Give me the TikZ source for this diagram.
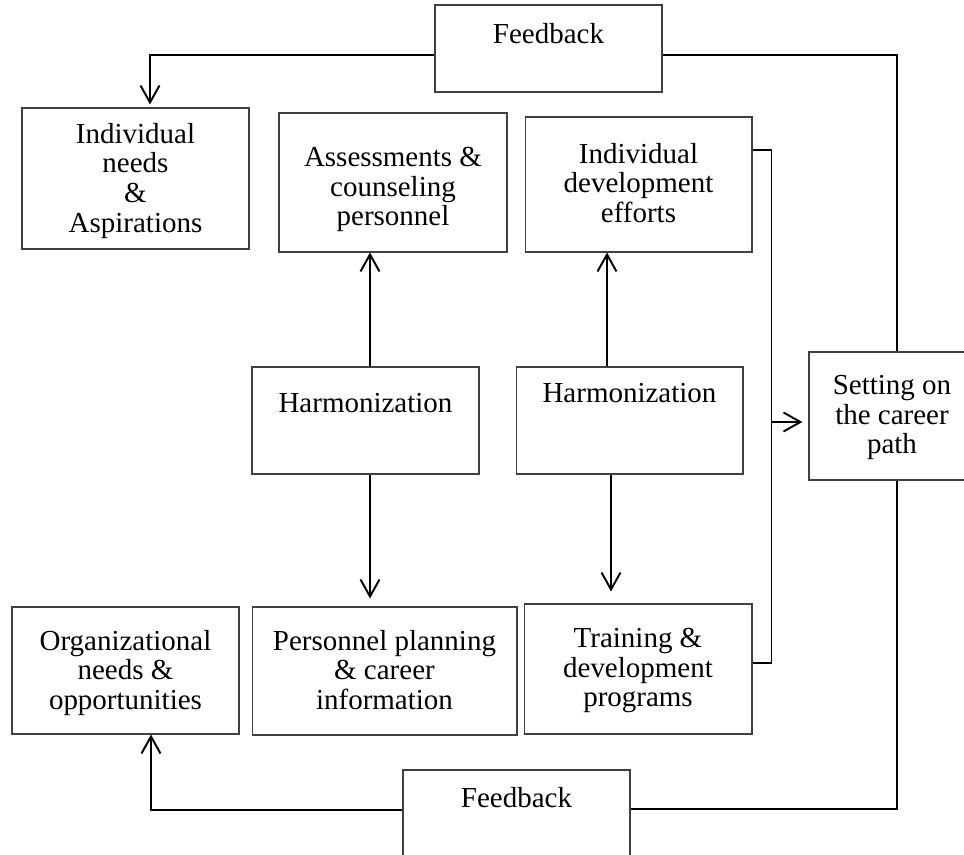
\documentclass[tikz,border=0pt]{standalone}
\usepackage{fontspec}
\setmainfont{Liberation Serif}
\usetikzlibrary{arrows.meta}

\tikzset{
  box/.style={draw=black!75,line width=0.6pt,minimum width=4.54cm},
  lbl/.style={anchor=north,inner sep=0pt,align=center,font=\fontsize{16.5}{16.8}\selectfont},
  conn/.style={line width=1.1pt,>={Straight Barb[length=0.34cm,width=0.38cm]}}
}

\begin{document}
\begin{tikzpicture}[x=0.02cm,y=-0.02cm]
  \useasboundingbox (0,0) rectangle (964,855);

  \node[box,minimum height=1.74cm] (fbtop) at (548.5,48.5) {};
  \node[box,minimum height=2.82cm] (indiv) at (135.5,178.5) {};
  \node[box,minimum width=4.56cm,minimum height=2.78cm] (assess) at (393,182.5) {};
  \node[box,minimum height=2.70cm] (idev) at (638.5,184.5) {};
  \node[box,minimum height=2.14cm] (harmA) at (365.5,420.5) {};
  \node[box,minimum height=2.14cm] (harmB) at (629.5,420.5) {};
  \node[box,minimum width=3.32cm,minimum height=2.56cm] (setting) at (892,416) {};
  \node[box,minimum height=2.54cm] (org) at (125.5,670.5) {};
  \node[box,minimum width=5.30cm,minimum height=2.56cm] (plan) at (384.5,671) {};
  \node[box,minimum width=4.56cm,minimum height=2.60cm] (train) at (638,669) {};
  \node[box,minimum height=2.20cm] (fbbot) at (516.5,825) {};

  \node[lbl] (fbtop-t) at (548.5,23) {Feedback};
  \node[lbl] (indiv-t) at (135.5,123) {Individual\\needs\\\&\\Aspirations};
  \node[lbl] (assess-t) at (393,147) {Assessments \&\\counseling\\personnel};
  \node[lbl] (idev-t) at (638.5,143) {Individual\\development\\efforts};
  \node[lbl] (harmA-t) at (365.5,393) {Harmonization};
  \node[lbl] (harmB-t) at (629.5,383) {Harmonization};
  \node[lbl] (setting-t) at (892,375) {Setting on\\the career\\path};
  \node[lbl] (org-t) at (125.5,630) {Organizational\\needs \&\\opportunities};
  \node[lbl] (plan-t) at (384.5,630) {Personnel planning\\\& career\\information};
  \node[lbl] (train-t) at (638,628) {Training \&\\development\\programs};
  \node[lbl] (fbbot-t) at (516.5,787) {Feedback};

  \draw[conn,->] ([yshift=-0.13cm]fbtop.west) -| ([xshift=0.29cm,yshift=0.06cm]indiv.north);
  \draw[conn] ([yshift=-0.13cm]fbtop.east) -| ([xshift=0.1cm]setting.north);
  \draw[conn] ([xshift=0.1cm]setting.south) |- ([yshift=0.32cm]fbbot.east);
  \draw[conn,->] ([yshift=0.30cm]fbbot.west) -| ([xshift=0.51cm]org.south);

  \draw[conn,->] ([xshift=0.09cm]harmA.north) -- ([xshift=0.09cm]harmA.north |- assess.south);
  \draw[conn,->,shorten >=0.16cm] ([xshift=0.09cm]harmA.south) -- ([xshift=0.09cm]harmA.south |- plan.north);
  \draw[conn,->] ([xshift=-0.45cm]harmB.north) -- ([xshift=-0.45cm]harmB.north |- idev.south);
  \draw[conn,->,shorten >=0.24cm] ([xshift=-0.37cm]harmB.south) -- ([xshift=-0.37cm]harmB.south |- train.north);

  \draw[conn] ([yshift=0.69cm]idev.east) -- ++(0.38cm,0) coordinate (bend) |- ([yshift=0.12cm]train.east);
  \draw[conn,->,shorten >=0.12cm] ([yshift=-0.12cm]setting.west -| bend) -- ([yshift=-0.12cm]setting.west);
\end{tikzpicture}
\end{document}
